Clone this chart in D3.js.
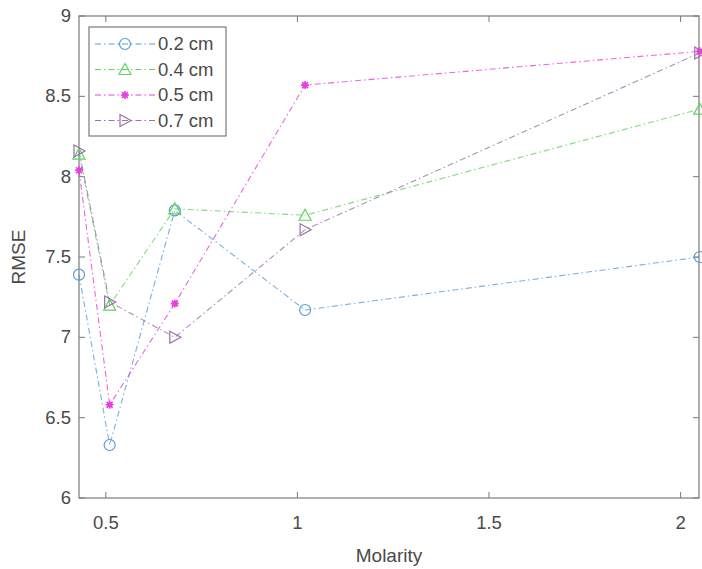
<!DOCTYPE html>
<html>
<head>
<meta charset="utf-8">
<script src="https://cdn.jsdelivr.net/npm/d3@7"></script>
<style>
  body { margin: 0; background: #fff; }
  text { font-family: "Liberation Sans", Arial, sans-serif; fill: #4a4a4a; }
</style>
</head>
<body>
<div id="chart"></div>
<script>
var molarity = [0.43, 0.51, 0.68, 1.02, 2.05];
var labels = ['0.2 cm', '0.4 cm', '0.5 cm', '0.7 cm'];
var rmse02 = [7.39, 6.33, 7.79, 7.17, 7.50];
var rmse04 = [8.14, 7.20, 7.80, 7.76, 8.42];
var rmse05 = [8.04, 6.58, 7.21, 8.57, 8.78];
var rmse07 = [8.16, 7.22, 7.00, 7.67, 8.77];
var xTicks = [0.5, 1, 1.5, 2];
var yTicks = [6, 6.5, 7, 7.5, 8, 8.5, 9];

var series = [
  {name: labels[0], values: rmse02, color: '#5b9bd5', marker: 'circle'},
  {name: labels[1], values: rmse04, color: '#5fd35f', marker: 'triangle'},
  {name: labels[2], values: rmse05, color: '#e83ee0', marker: 'star'},
  {name: labels[3], values: rmse07, color: '#9c6fa8', marker: 'right'}
];

var width = 702, height = 569;
var margin = {left: 79, right: 3, top: 16, bottom: 71};

var svg = d3.select('#chart').append('svg')
  .attr('width', width)
  .attr('height', height);

var x = d3.scaleLinear().domain([0.43, 2.048]).range([margin.left, width - margin.right]);
var y = d3.scaleLinear().domain([6, 9]).range([height - margin.bottom, margin.top]);

var axisColor = '#7a7a7a';
var tickLen = 6;

// axes box
svg.append('rect')
  .attr('x', x.range()[0]).attr('y', y.range()[1])
  .attr('width', x.range()[1] - x.range()[0])
  .attr('height', y.range()[0] - y.range()[1])
  .style('fill', 'none').style('stroke', axisColor).style('stroke-width', 1.2);

// ticks (inward, all four sides)
var g = svg.append('g');
xTicks.forEach(function(t){
  g.append('line').attr('x1', x(t)).attr('x2', x(t))
    .attr('y1', y(6)).attr('y2', y(6) - tickLen)
    .style('stroke', axisColor);
  g.append('line').attr('x1', x(t)).attr('x2', x(t))
    .attr('y1', y(9)).attr('y2', y(9) + tickLen)
    .style('stroke', axisColor);
  g.append('text').attr('x', x(t)).attr('y', y(6) + 31)
    .attr('text-anchor', 'middle').style('font-size', '18.5px')
    .text(t);
});
yTicks.forEach(function(t){
  g.append('line').attr('x1', x.range()[0]).attr('x2', x.range()[0] + tickLen)
    .attr('y1', y(t)).attr('y2', y(t))
    .style('stroke', axisColor);
  g.append('line').attr('x1', x.range()[1]).attr('x2', x.range()[1] - tickLen)
    .attr('y1', y(t)).attr('y2', y(t))
    .style('stroke', axisColor);
  g.append('text').attr('x', x.range()[0] - 8).attr('y', y(t) + 6)
    .attr('text-anchor', 'end').style('font-size', '18.5px')
    .text(t);
});

svg.append('text')
  .attr('x', (x.range()[0] + x.range()[1]) / 2).attr('y', 562)
  .attr('text-anchor', 'middle').style('font-size', '19px')
  .text('Molarity');
svg.append('text')
  .attr('transform', 'translate(25,' + ((y.range()[0] + y.range()[1]) / 2) + ') rotate(-90)')
  .attr('text-anchor', 'middle').style('font-size', '19px')
  .text('RMSE');

var drawMarker = function(sel, type, color){
  if (type === 'circle') {
    sel.append('circle').attr('r', 5.5)
      .style('fill', 'none').style('stroke', color).style('stroke-width', 1.2);
  } else if (type === 'triangle') {
    sel.append('path').attr('d', 'M0,-6L6,5L-6,5Z')
      .style('fill', 'none').style('stroke', color).style('stroke-width', 1.2);
  } else if (type === 'right') {
    sel.append('path').attr('d', 'M-5,-6L6,0L-5,6Z')
      .style('fill', 'none').style('stroke', color).style('stroke-width', 1.2);
  } else {
    sel.append('path').attr('d', 'M-4,0L4,0M0,-4L0,4M-3,-3L3,3M-3,3L3,-3')
      .style('fill', 'none').style('stroke', color).style('stroke-width', 1.6);
    sel.append('circle').attr('r', 2.5).style('fill', color);
  }
};

var line = d3.line()
  .x(function(d, i){ return x(molarity[i]); })
  .y(function(d){ return y(d); });

var plot = svg.append('g');
series.forEach(function(s){
  plot.append('path').datum(s.values)
    .attr('d', line)
    .style('fill', 'none')
    .style('stroke', s.color)
    .style('stroke-width', 1.1)
    .style('stroke-dasharray', '6,3,1.5,3')
    .style('opacity', 0.8);
});
series.forEach(function(s){
  s.values.forEach(function(v, i){
    var m = plot.append('g')
      .attr('transform', 'translate(' + x(molarity[i]) + ',' + y(v) + ')');
    drawMarker(m, s.marker, s.color);
  });
});

// legend
var lx = 89, ly = 27;
var legend = svg.append('g').attr('transform', 'translate(' + lx + ',' + ly + ')');
legend.append('rect').attr('width', 137).attr('height', 109)
  .style('fill', '#fff').style('stroke', axisColor).style('stroke-width', 1.2);
series.forEach(function(s, i){
  var row = legend.append('g').attr('transform', 'translate(0,' + (17 + i * 25.5) + ')');
  row.append('line').attr('x1', 6).attr('x2', 66).attr('y1', 0).attr('y2', 0)
    .style('stroke', s.color).style('stroke-width', 1.1)
    .style('stroke-dasharray', '6,3,1.5,3');
  var m = row.append('g').attr('transform', 'translate(36,0)');
  drawMarker(m, s.marker, s.color);
  row.append('text').attr('x', 69).attr('y', 6)
    .style('font-size', '18.5px').text(s.name);
});
</script>
</body>
</html>
